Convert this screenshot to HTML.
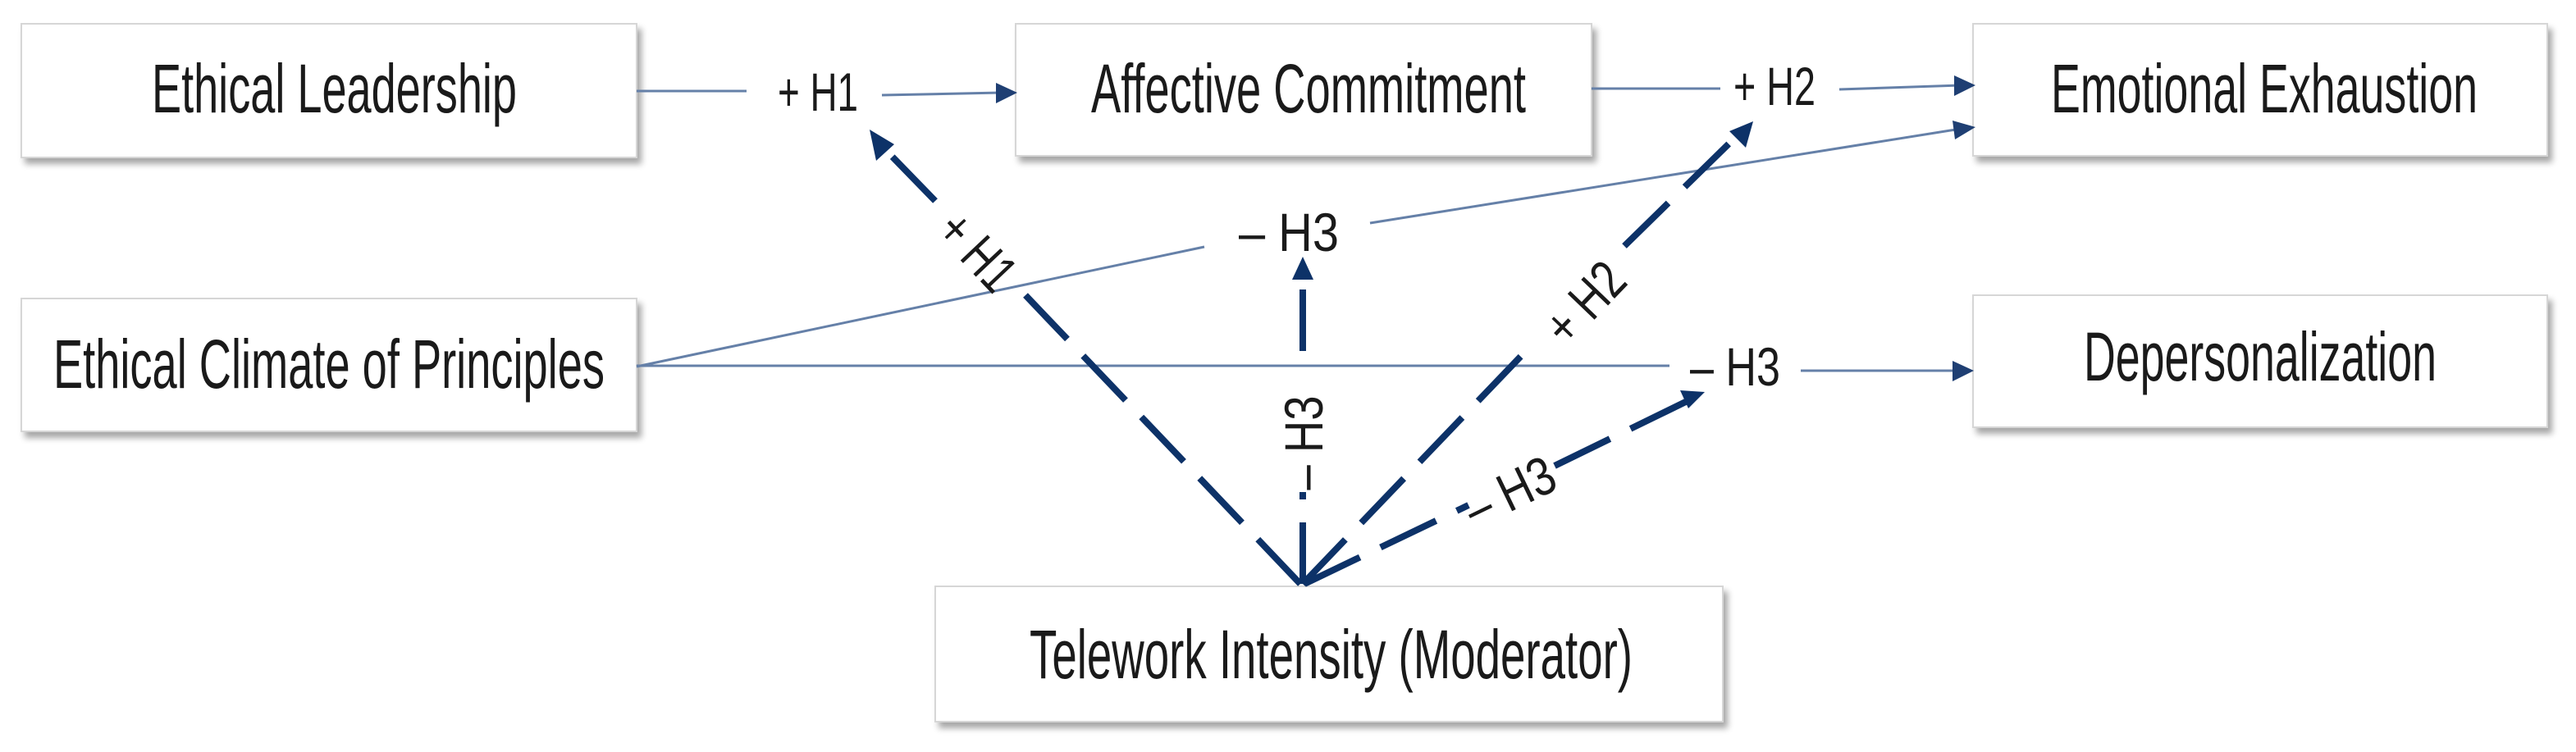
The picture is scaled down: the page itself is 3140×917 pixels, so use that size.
<!DOCTYPE html>
<html><head><meta charset="utf-8"><style>
html,body{margin:0;padding:0;background:#fff;}
svg{display:block;}
text{font-family:"Liberation Sans",Arial,sans-serif;fill:#1a1a1a;}
</style></head><body>
<svg width="3140" height="917" viewBox="0 0 3140 917" xmlns="http://www.w3.org/2000/svg">
<defs>
<filter id="sh" x="-5%" y="-10%" width="115%" height="130%">
<feGaussianBlur in="SourceAlpha" stdDeviation="4"/>
<feOffset dx="5" dy="7" result="o"/>
<feComponentTransfer><feFuncA type="linear" slope="0.35"/></feComponentTransfer>
<feMerge><feMergeNode/><feMergeNode in="SourceGraphic"/></feMerge>
</filter>
</defs>

<g fill="#fff" stroke="#d6d6d6" stroke-width="2" filter="url(#sh)">
<rect x="26" y="29" width="750" height="163"/>
<rect x="26" y="364" width="750" height="162"/>
<rect x="1238" y="29" width="702" height="161"/>
<rect x="2405" y="29" width="700" height="161"/>
<rect x="2405" y="360" width="700" height="161"/>
<rect x="1140" y="715" width="960" height="165"/>
</g>

<g font-size="84">
<text x="185" y="137" textLength="445" lengthAdjust="spacingAndGlyphs">Ethical Leadership</text>
<text x="65" y="473" textLength="672" lengthAdjust="spacingAndGlyphs">Ethical Climate of Principles</text>
<text x="1330" y="137" textLength="530" lengthAdjust="spacingAndGlyphs">Affective Commitment</text>
<text x="2500" y="137" textLength="520" lengthAdjust="spacingAndGlyphs">Emotional Exhaustion</text>
<text x="2540" y="464" textLength="430" lengthAdjust="spacingAndGlyphs">Depersonalization</text>
<text x="1255" y="827" textLength="735" lengthAdjust="spacingAndGlyphs">Telework Intensity (Moderator)</text>
</g>

<!-- thin lines -->
<g stroke="#6580a8" stroke-width="3" fill="none">
<line x1="776" y1="111" x2="910" y2="111"/>
<line x1="1075" y1="116" x2="1220" y2="113"/>
<line x1="1940" y1="108" x2="2097" y2="108"/>
<line x1="2242" y1="109" x2="2390" y2="104"/>
<line x1="776" y1="447" x2="1468" y2="301"/>
<line x1="1670" y1="272" x2="2390" y2="157"/>
<line x1="776" y1="446" x2="2035" y2="446"/>
<line x1="2195" y1="452" x2="2390" y2="452"/>
</g>
<g fill="#1f3f73">
<path d="M1214,101 L1240,113 L1214,126 z"/>
<path d="M2382,92 L2408,104 L2382,117 z"/>
<path d="M2380,147 L2408,155 L2383,170 z"/>
<path d="M2380,440 L2406,452 L2380,465 z"/>
</g>

<!-- thick dashed -->
<g stroke="#0d3268" stroke-width="8" fill="none" stroke-dasharray="75 28">
<path d="M1585,712 L1250,360"/>
<path d="M1140,245 L1072,175"/>
<path d="M1588,712 L1588,600"/>
<path d="M1588,428 L1588,345"/>
<path d="M1588,712 L1860,428"/>
<path d="M1980,300 L2125,158"/>
<path d="M1590,712 L1790,616"/>
<path d="M1895,568 L2065,485"/>
</g>
<g fill="#0d3268">
<path d="M1060,158 L1090,176 L1068,196 z"/>
<path d="M1588,313 L1601,341 L1575,341 z"/>
<path d="M2137,148 L2128,180 L2108,160 z"/>
<path d="M2078,478 L2058,498 L2048,476 z"/>
</g>

<!-- labels -->
<g font-size="66">
<text x="948" y="135" textLength="98" lengthAdjust="spacingAndGlyphs">+ H1</text>
<text x="2113" y="128" textLength="100" lengthAdjust="spacingAndGlyphs">+ H2</text>
<text x="1510" y="306" textLength="122" lengthAdjust="spacingAndGlyphs">– H3</text>
<text x="2060" y="470" textLength="110" lengthAdjust="spacingAndGlyphs">– H3</text>
<text x="0" y="0" text-anchor="middle" transform="translate(1175,322) rotate(46.6)" textLength="105" lengthAdjust="spacingAndGlyphs">+ H1</text>
<text x="0" y="0" text-anchor="middle" transform="translate(1612,540) rotate(-90)" textLength="115" lengthAdjust="spacingAndGlyphs">– H3</text>
<text x="0" y="0" text-anchor="middle" transform="translate(1948,385) rotate(-46.2)" textLength="110" lengthAdjust="spacingAndGlyphs">+ H2</text>
<text x="0" y="0" text-anchor="middle" transform="translate(1850,620) rotate(-25.8)" textLength="115" lengthAdjust="spacingAndGlyphs">– H3</text>
</g>
</svg>
</body></html>
